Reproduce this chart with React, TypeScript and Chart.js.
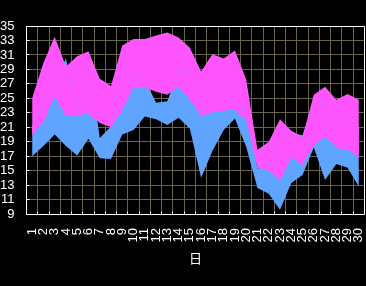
import React, { useEffect, useRef } from 'react';
import { Chart, registerables } from 'chart.js';

// ---- data ----
const days = ['1','2','3','4','5','6','7','8','9','10','11','12','13','14','15','16','17','18','19','20','21','22','23','24','25','26','27','28','29','30'];
const magentaTop = [25.0, 29.9, 33.5, 29.4, 30.8, 31.5, 27.7, 26.7, 32.3, 33.2, 33.2, 33.7, 34.1, 33.4, 32.0, 28.7, 31.1, 30.5, 31.6, 27.6, 17.9, 19.0, 22.1, 20.5, 19.7, 25.5, 26.6, 24.8, 25.6, 24.8];
const magentaBottom = [19.9, 21.8, 25.2, 22.5, 22.7, 22.9, 21.6, 21.0, 23.3, 26.4, 26.5, 25.9, 25.5, 26.6, 24.8, 22.6, 23.1, 23.3, 23.4, 22.0, 15.3, 15.0, 13.7, 16.8, 15.8, 18.5, 19.7, 18.1, 17.9, 16.9];
const blueTop = [21.2, 24.3, 27.3, 30.5, 23.0, 30.9, 19.5, 21.1, 29.2, 27.8, 27.6, 24.4, 24.6, 28.9, 28.5, 23.0, 25.2, 27.3, 24.5, 23.1, 15.3, 15.2, 21.2, 20.2, 19.9, 24.3, 24.5, 21.8, 22.5, 20.9];
const blueBottom = [17.0, 18.4, 20.0, 18.4, 17.1, 19.4, 16.7, 16.6, 20.0, 20.6, 22.5, 22.1, 21.3, 22.3, 20.8, 14.0, 17.7, 20.6, 22.2, 18.3, 12.6, 11.8, 9.6, 13.3, 14.4, 18.2, 13.7, 15.9, 15.4, 12.8];
const yMin = 9;
const yMax = 35;
const yStep = 2;
const xTitle = '日';

// ---- style ----
const MAGENTA = '#ff55ff';
const MAGENTA_RGB = [255, 85, 255];
const BLUE = '#5fa5ff';
const GRID = '#6b6548';
const FONT = "'Liberation Sans', Arial, sans-serif";
const CJK = "'Noto Sans CJK JP', 'Noto Sans CJK SC', sans-serif";

function bandPath(topPts: any[], botPts: any[]) {
  const p = new Path2D();
  topPts.forEach((pt, i) => (i === 0 ? p.moveTo(pt.x, pt.y) : p.lineTo(pt.x, pt.y)));
  for (let i = botPts.length - 1; i >= 0; i--) p.lineTo(botPts[i].x, botPts[i].y);
  p.closePath();
  return p;
}

const bandPlugin: any = {
  id: 'bandOverlap',
  afterDatasetsDraw(chart: any) {
    const ctx: CanvasRenderingContext2D = chart.ctx;
    const magPath = bandPath(chart.getDatasetMeta(0).data, chart.getDatasetMeta(1).data);
    const bluePath = bandPath(chart.getDatasetMeta(2).data, chart.getDatasetMeta(3).data);
    const { left, right, top, bottom } = chart.chartArea;
    const x0 = Math.floor(left), x1 = Math.ceil(right);
    const y0 = Math.floor(top), y1 = Math.ceil(bottom);
    const w = x1 - x0, h = y1 - y0;
    ctx.save();
    ctx.setTransform(1, 0, 0, 1, 0, 0);
    const img = ctx.getImageData(x0, y0, w, h);
    const d = img.data;
    for (let y = 0; y < h; y++) {
      for (let x = (x0 + y0 + y) % 2; x < w; x += 2) {
        const px = x0 + x + 0.5, py = y0 + y + 0.5;
        if (ctx.isPointInPath(magPath, px, py) && ctx.isPointInPath(bluePath, px, py)) {
          const k = (y * w + x) * 4;
          d[k] = MAGENTA_RGB[0];
          d[k + 1] = MAGENTA_RGB[1];
          d[k + 2] = MAGENTA_RGB[2];
          d[k + 3] = 255;
        }
      }
    }
    ctx.putImageData(img, x0, y0);
    ctx.restore();
    // grid (z:1) is drawn after datasets, only into empty pixels
    ctx.globalCompositeOperation = 'destination-over';
  },
  afterDraw(chart: any) {
    const ctx = chart.ctx;
    ctx.globalCompositeOperation = 'source-over';
    const { left, right, top, bottom } = chart.chartArea;
    const al = (p: number) => Math.round(p - 0.5) + 0.5;
    const L = al(left), R = al(right), T = al(top), B = al(bottom);
    const xs = chart.scales.x;
    const ys = chart.scales.y;
    ctx.save();
    ctx.strokeStyle = '#ffffff';
    ctx.lineWidth = 1;
    ctx.beginPath();
    ctx.rect(L, T, R - L, B - T);
    const n = xs.ticks.length;
    const half = (xs.getPixelForTick(1) - xs.getPixelForTick(0)) / 2;
    for (let i = 1; i < n; i++) {
      const x = al(xs.getPixelForTick(i) - half);
      ctx.moveTo(x, B);
      ctx.lineTo(x, B - 3);
    }
    ys.ticks.forEach((t: any) => {
      const y = al(ys.getPixelForValue(t.value));
      ctx.moveTo(L, y);
      ctx.lineTo(L + 3, y);
    });
    ctx.stroke();
    ctx.restore();
  },
};

Chart.register(...registerables);

export default function App() {
  const ref = useRef<HTMLCanvasElement>(null);
  useEffect(() => {
    document.body.style.margin = '0';
    document.body.style.background = '#000';
    const canvas = ref.current!;
    const common = { borderWidth: 0, pointRadius: 0, pointHoverRadius: 0 };
    const chart = new Chart(canvas, {
      type: 'line',
      data: {
        labels: days,
        datasets: [
          { ...common, data: magentaTop, fill: 1, backgroundColor: MAGENTA, order: 2 },
          { ...common, data: magentaBottom, fill: false, backgroundColor: 'transparent', order: 0 },
          { ...common, data: blueTop, fill: 3, backgroundColor: BLUE, order: 1 },
          { ...common, data: blueBottom, fill: false, backgroundColor: 'transparent', order: 0 },
        ],
      },
      options: {
        responsive: false,
        animation: false,
        devicePixelRatio: 1,
        events: [],
        layout: { padding: { top: 26, left: 0, right: 1.5, bottom: 0 } },
        plugins: { legend: { display: false }, tooltip: { enabled: false } },
        scales: {
          x: {
            offset: true,
            grid: { offset: true, color: GRID, lineWidth: 1, drawTicks: false, z: 1 },
            border: { display: false },
            ticks: { color: '#ffffff', font: { family: FONT, size: 13 }, minRotation: 90, maxRotation: 90, autoSkip: false, padding: 14 },
            title: { display: true, text: xTitle, color: '#ffffff', font: { family: CJK, size: 13 }, padding: { top: 0, bottom: 20 } },
            afterFit: (s: any) => { s.height = 72; s.paddingLeft = 0; s.paddingRight = 0; },
          },
          y: {
            min: yMin,
            max: yMax,
            grid: { color: GRID, lineWidth: 1, drawTicks: false, z: 1 },
            border: { display: false },
            ticks: { stepSize: yStep, autoSkip: false, color: '#ffffff', font: { family: FONT, size: 13 }, padding: 12 },
            afterFit: (s: any) => { s.width = 26.5; },
          },
        },
      } as any,
      plugins: [bandPlugin],
    });
    return () => chart.destroy();
  }, []);
  return (
    <div style={{ width: 366, height: 286, background: '#000' }}>
      <canvas ref={ref} width={366} height={286} style={{ display: 'block', width: 366, height: 286, background: '#000' }} />
    </div>
  );
}
